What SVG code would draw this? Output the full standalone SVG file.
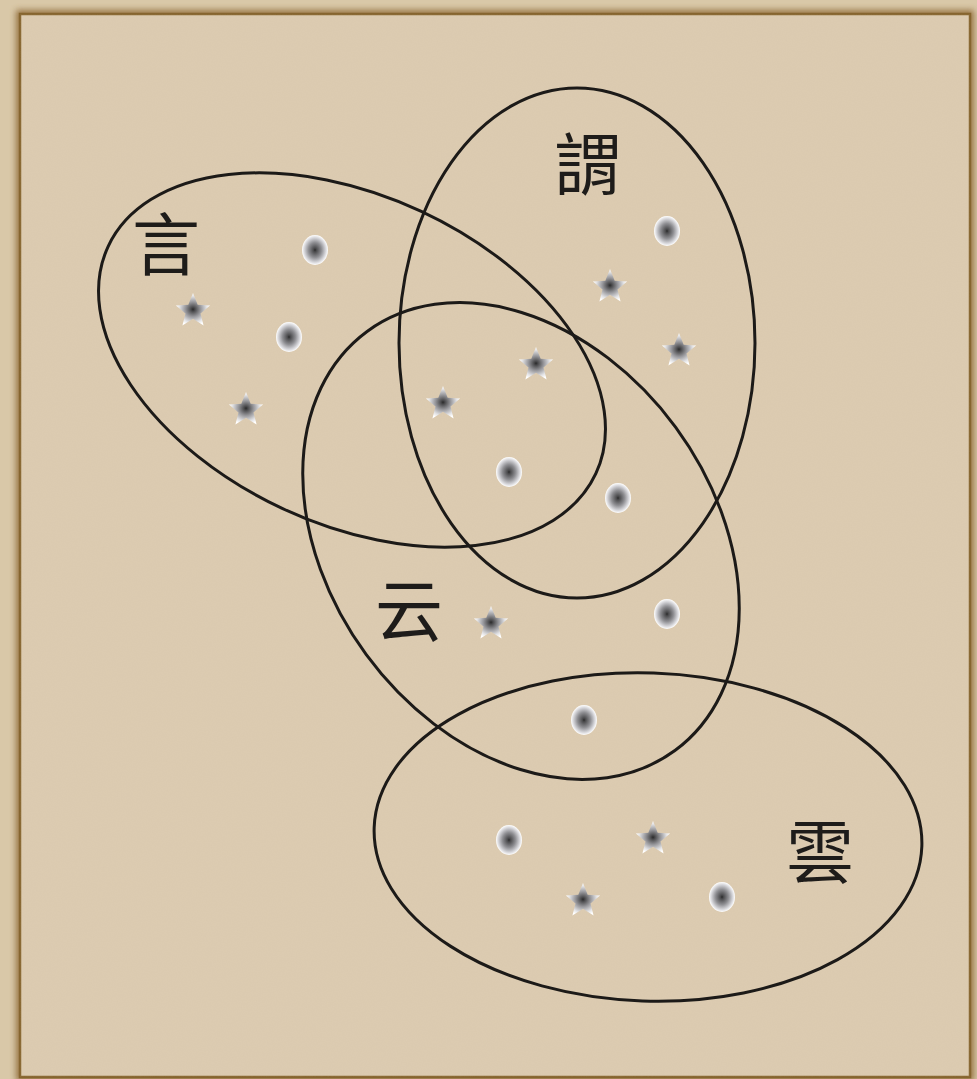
<svg xmlns="http://www.w3.org/2000/svg" width="977" height="1079" viewBox="0 0 977 1079">
  <defs>
    <radialGradient id="dotGrad" cx="50%" cy="50%" r="50%">
      <stop offset="0" stop-color="#2a2a2a"/>
      <stop offset="0.12" stop-color="#4a4a4c"/>
      <stop offset="0.5" stop-color="#8e8e92"/>
      <stop offset="0.82" stop-color="#d6d6da"/>
      <stop offset="1" stop-color="#ffffff"/>
    </radialGradient>
    <radialGradient id="starGrad" cx="50%" cy="50%" r="50%">
      <stop offset="0" stop-color="#2a2a2a"/>
      <stop offset="0.12" stop-color="#4a4a4c"/>
      <stop offset="0.45" stop-color="#97979b"/>
      <stop offset="0.8" stop-color="#e2e2e4"/>
      <stop offset="1" stop-color="#ffffff"/>
    </radialGradient>
    <filter id="burn" x="-5%" y="-5%" width="110%" height="110%">
      <feGaussianBlur stdDeviation="3"/>
    </filter>
    <filter id="paper" x="0" y="0" width="100%" height="100%">
      <feTurbulence type="fractalNoise" baseFrequency="0.8" numOctaves="2" seed="3" result="n"/>
      <feColorMatrix in="n" type="matrix" values="0 0 0 0 0.55  0 0 0 0 0.45  0 0 0 0 0.3  0 0 0 0.12 0"/>
    </filter>
    <ellipse id="dot" cx="0" cy="0" rx="13" ry="15" fill="url(#dotGrad)"/>
    <polygon id="star" points="0,-18 4.7,-6.3 17.1,-5.6 7.5,2.4 10.6,14.6 0,7.8 -10.6,14.6 -7.5,2.4 -17.1,-5.6 -4.7,-6.3" fill="url(#starGrad)"/>
  </defs>
  <style>
    .set { fill: none; stroke: #1c1a18; stroke-width: 3; }
    .lbl { font-family: "Noto Sans CJK TC", "Noto Sans CJK SC", serif; font-size: 68px; fill: #1e1c1a; text-anchor: middle; }
  </style>

  <!-- paper background -->
  <rect x="0" y="0" width="977" height="1079" fill="#d9c8a8"/>
  <rect x="20" y="14" width="950" height="1063" fill="none" stroke="#8a6530" stroke-width="8" filter="url(#burn)" opacity="0.85"/>
  <rect x="20" y="14" width="950" height="1063" fill="#ddccb2" stroke="#86652f" stroke-width="2.5"/>
  <rect x="20" y="14" width="950" height="1063" filter="url(#paper)"/>

  <!-- sets -->
  <g id="set-yan">
    <ellipse class="set" cx="352" cy="360" rx="269" ry="164" transform="rotate(25 352 360)"/>
    <text class="lbl" x="166" y="270">言</text>
  </g>
  <g id="set-wei">
    <ellipse class="set" cx="577" cy="343" rx="178" ry="255"/>
    <text class="lbl" x="588" y="190">謂</text>
  </g>
  <g id="set-yun">
    <ellipse class="set" cx="521" cy="541" rx="260" ry="192" transform="rotate(53.7 521 541)"/>
    <text class="lbl" x="409" y="636">云</text>
  </g>
  <g id="set-cloud">
    <ellipse class="set" cx="648" cy="837" rx="274" ry="164" transform="rotate(2 648 837)"/>
    <text class="lbl" x="820" y="878">雲</text>
  </g>

  <!-- elements -->
  <g id="dots">
    <use href="#dot" x="315" y="250"/>
    <use href="#dot" x="289" y="337"/>
    <use href="#dot" x="667" y="231"/>
    <use href="#dot" x="509" y="472"/>
    <use href="#dot" x="618" y="498"/>
    <use href="#dot" x="667" y="614"/>
    <use href="#dot" x="584" y="720"/>
    <use href="#dot" x="509" y="840"/>
    <use href="#dot" x="722" y="897"/>
  </g>
  <g id="stars">
    <use href="#star" x="193" y="311"/>
    <use href="#star" x="246" y="410"/>
    <use href="#star" x="610" y="287"/>
    <use href="#star" x="679" y="351"/>
    <use href="#star" x="536" y="365"/>
    <use href="#star" x="443" y="404"/>
    <use href="#star" x="491" y="624"/>
    <use href="#star" x="653" y="839"/>
    <use href="#star" x="583" y="901"/>
  </g>
</svg>
